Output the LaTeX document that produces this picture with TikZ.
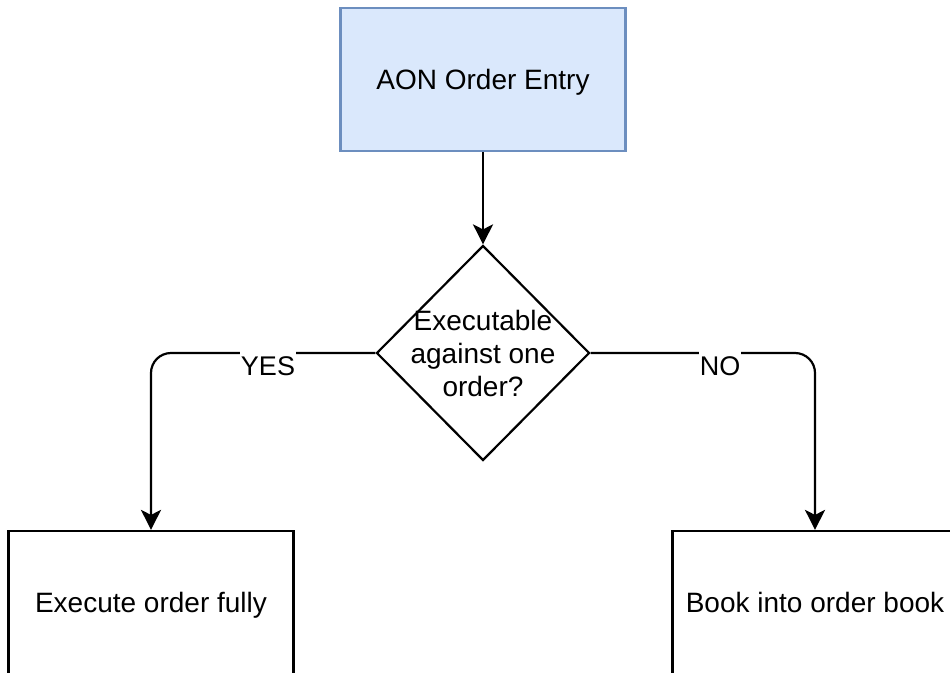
\documentclass[tikz,border=0pt]{standalone}
\usepackage{fontspec}
\setmainfont{Liberation Sans}
\usetikzlibrary{shapes.geometric,arrows.meta}

\definecolor{entryfill}{HTML}{DAE8FC}
\definecolor{entrydraw}{HTML}{6C8EBF}

\tikzset{
  box/.style={rectangle, draw=black, line width=2.2pt, fill=white,
    minimum width=285pt, minimum height=143pt, inner sep=0pt,
    font=\fontsize{28}{34}\selectfont, text height=20pt, text depth=0pt},
  entrybox/.style={box, fill=entryfill, draw=entrydraw},
  decision/.style={diamond, draw=black, line width=2.2pt, fill=white,
    minimum width=213pt, minimum height=215pt, inner sep=0pt},
  dectxt/.style={align=center, inner sep=0pt, font=\fontsize{28}{33}\selectfont},
  conn/.style={draw=black, line width=2.2pt,
    -{Stealth[length=20pt, width=20pt, inset=5pt]}},
  branch/.style={conn, rounded corners=20pt},
  lbl/.style={fill=white, inner xsep=1pt, inner ysep=5pt,
    font=\fontsize{27}{32}\selectfont, anchor=base}
}

\begin{document}
\begin{tikzpicture}[x=1pt, y=-1pt]
  \useasboundingbox (0,0) rectangle (950,672);
  \clip (0,0) rectangle (950,672);

  % process boxes and the decision
  \node[entrybox] (entry) at (483,79.5) {AON Order Entry};
  \node[decision] (dec) at (483,353) {};
  \node[dectxt] (dectext) at (dec.center) {Executable\\against one\\order?};
  \node[box] (exec) at (151,602.5) {Execute order fully};
  \node[box] (book) at (815,602.5) {Book into order book};

  % connectors
  \draw[conn] (entry.south) -- (dec.north);
  \draw[branch] (dec.west) -| (exec.north);
  \draw[branch] (dec.east) -| (book.north);

  % branch labels
  \node[lbl] (yes) at (268,375) {YES};
  \node[lbl] (no) at (720,375) {NO};
\end{tikzpicture}
\end{document}
